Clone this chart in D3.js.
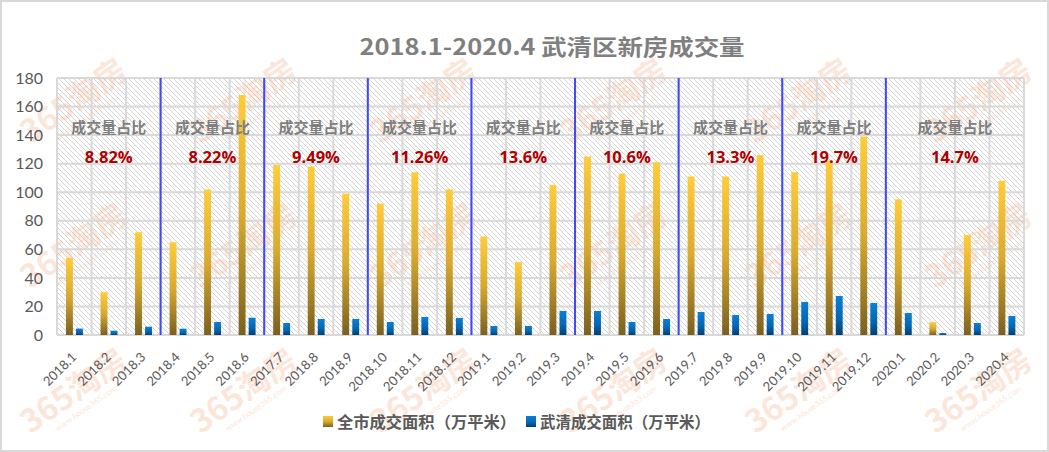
<!DOCTYPE html>
<html>
<head>
<meta charset="utf-8">
<script src="https://cdn.jsdelivr.net/npm/d3@7"></script>
<style>
html,body{margin:0;padding:0;background:#fff;}
svg{display:block;}
</style>
</head>
<body>
<svg id="chart" width="1049" height="452"></svg>
<script>
const categories = ["2018.1","2018.2","2018.3","2018.4","2018.5","2018.6","2017.7","2018.8","2018.9","2018.10","2018.11","2018.12","2019.1","2019.2","2019.3","2019.4","2019.5","2019.6","2019.7","2019.8","2019.9","2019.10","2019.11","2019.12","2020.1","2020.2","2020.3","2020.4"];
const cityArea = [54,30,72,65,102,168,119,118,99,92,114,102,69,51,105,125,113,121,111,111,126,114,122,139,95,9,70,108];
const wuqingArea = [4.5,3,5.8,4.4,9.1,12.1,8.4,11.2,11.2,9.1,12.6,11.9,6.3,6.3,16.8,16.8,9.1,11.2,16.1,14,14.7,23.1,27.3,22.4,15.4,1.4,8.4,13.3];
const groupStarts = [0,3,6,9,12,15,18,21,24];
const groupEnds = [2,5,8,11,14,17,20,23,27];
const ratioLabels = ["8.82%","8.22%","9.49%","11.26%","13.6%","10.6%","13.3%","19.7%","14.7%"];
const yTicks = [0,20,40,60,80,100,120,140,160,180];
const seriesNames = ["全市成交面积（万平米）","武清成交面积（万平米）"];
const titleText = "2018.1-2020.4 武清区新房成交量";
const ratioTitle = "成交量占比";

(function(){
const W = 1049, H = 452;
const svg = d3.select("#chart");
const font = "'Noto Sans CJK SC','Microsoft YaHei',sans-serif";

const defs = svg.append("defs");
const hatch = defs.append("pattern").attr("id","hatch").attr("patternUnits","userSpaceOnUse")
  .attr("width",5).attr("height",5);
hatch.append("rect").attr("width",5).attr("height",5).attr("fill","#fff");
hatch.append("path").attr("d","M0,0 L5,5 M-1,4 L1,6 M4,-1 L6,1").attr("stroke","#cfcfcf").attr("stroke-width",0.9);

const gY = defs.append("linearGradient").attr("id","gY").attr("x1",0).attr("y1",0).attr("x2",0).attr("y2",1);
gY.append("stop").attr("offset","0%").attr("stop-color","#ffcc3a");
gY.append("stop").attr("offset","50%").attr("stop-color","#d9aa30");
gY.append("stop").attr("offset","100%").attr("stop-color","#7a6020");
const gB = defs.append("linearGradient").attr("id","gB").attr("x1",0).attr("y1",0).attr("x2",0).attr("y2",1);
gB.append("stop").attr("offset","0%").attr("stop-color","#0a7fd6");
gB.append("stop").attr("offset","60%").attr("stop-color","#0566b0");
gB.append("stop").attr("offset","100%").attr("stop-color","#023f70");

svg.append("rect").attr("x",1).attr("y",1).attr("width",W-2).attr("height",H-2)
  .attr("fill","#fff").attr("stroke","#d9d9d9").attr("stroke-width",2);

const pLeft = 57, pRight = 1024, pTop = 78, pBottom = 335;
const x = d3.scaleBand().domain(categories).range([pLeft,pRight]).padding(0);
const y = d3.scaleLinear().domain([0,180]).range([pBottom,pTop]);
const bw = x.bandwidth();

svg.append("rect").attr("x",pLeft).attr("y",pTop).attr("width",pRight-pLeft).attr("height",pBottom-pTop).attr("fill","url(#hatch)");

const wm = svg.append("g").attr("class","watermarks");
const wmCols = [80,250,430,620,805,985];
const wmRows = [110,255,400];
wmRows.forEach(ry => wmCols.forEach(cx => {
  const g = wm.append("g").attr("transform",`translate(${cx},${ry}) rotate(-35)`);
  g.append("text").attr("text-anchor","middle").attr("font-family",font).attr("font-weight","bold")
    .attr("font-size",32).attr("fill","#f6a070").attr("opacity",0.25).text("365淘房");
  g.append("text").attr("text-anchor","middle").attr("y",13).attr("font-family","Lato,sans-serif")
    .attr("font-size",8).attr("fill","#f6a070").attr("opacity",0.28).text("www.house365.com");
}));

const grid = svg.append("g");
grid.selectAll("line.h").data(yTicks).join("line").attr("class","h")
  .attr("x1",pLeft).attr("x2",pRight).attr("y1",d=>y(d)).attr("y2",d=>y(d))
  .attr("stroke","#d9d9d9").attr("stroke-width",2);
const vLines = categories.map(c=>x(c)).concat([pRight]);
grid.selectAll("line.v").data(vLines).join("line").attr("class","v")
  .attr("x1",d=>d).attr("x2",d=>d).attr("y1",pTop).attr("y2",pBottom)
  .attr("stroke","#d9d9d9").attr("stroke-width",2);

svg.append("g").selectAll("line").data(groupStarts.slice(1)).join("line")
  .attr("x1",d=>x(categories[d])).attr("x2",d=>x(categories[d]))
  .attr("y1",pTop).attr("y2",pBottom).attr("stroke","#3f48ff").attr("stroke-width",2);

svg.append("g").selectAll("rect").data(categories).join("rect")
  .attr("x",c=>x(c)+bw*0.26).attr("width",bw*0.2)
  .attr("y",(c,i)=>y(cityArea[i])).attr("height",(c,i)=>y(0)-y(cityArea[i]))
  .attr("fill","url(#gY)");
svg.append("g").selectAll("rect").data(categories).join("rect")
  .attr("x",c=>x(c)+bw*0.55).attr("width",bw*0.2)
  .attr("y",(c,i)=>y(wuqingArea[i])).attr("height",(c,i)=>y(0)-y(wuqingArea[i]))
  .attr("fill","url(#gB)");

const yAxis = svg.append("g").attr("transform",`translate(${pLeft},0)`)
  .call(d3.axisLeft(y).tickValues(yTicks).tickSize(0).tickPadding(14));
yAxis.select(".domain").remove();
yAxis.selectAll("text").attr("font-family","Lato,'Liberation Sans',sans-serif").attr("font-size",16).attr("fill","#595959");

const xAxis = svg.append("g").attr("transform",`translate(0,${pBottom})`)
  .call(d3.axisBottom(x).tickSize(0).tickPadding(0));
xAxis.select(".domain").remove();
xAxis.selectAll("text")
  .attr("font-family","Lato,'Liberation Sans',sans-serif").attr("font-size",13).attr("fill","#595959")
  .attr("text-anchor","end").attr("dy",0).attr("y",0)
  .attr("transform","translate(3,23) rotate(-45)");

const ann = svg.append("g");
groupStarts.forEach((s,i)=>{
  const cx = (x(categories[s]) + x(categories[groupEnds[i]]) + bw)/2;
  ann.append("text").attr("x",cx).attr("y",133).attr("text-anchor","middle")
    .attr("font-family",font).attr("font-weight","bold").attr("font-size",15).attr("fill","#7f7f7f").text(ratioTitle);
  ann.append("text").attr("x",cx).attr("y",163).attr("text-anchor","middle")
    .attr("font-family","'Open Sans','DejaVu Sans',sans-serif").attr("font-weight","bold").attr("font-size",16.5).attr("fill","#b00000").text(ratioLabels[i]);
});

svg.append("text").attr("x",552).attr("y",55).attr("text-anchor","middle")
  .attr("font-family",font).attr("font-weight","bold").attr("font-size",22).attr("fill","#7f7f7f")
  .attr("textLength",385).attr("lengthAdjust","spacingAndGlyphs").text(titleText);

const legend = svg.append("g");
const legItems = [{x:323, w:179, fill:"url(#gY)", name:seriesNames[0]},{x:526, w:170, fill:"url(#gB)", name:seriesNames[1]}];
legItems.forEach(d=>{
  legend.append("rect").attr("x",d.x).attr("y",416).attr("width",10).attr("height",11).attr("fill",d.fill);
  legend.append("text").attr("x",d.x+14).attr("y",428).attr("font-family",font).attr("font-weight","bold")
    .attr("font-size",16).attr("fill","#595959")
    .attr("textLength",d.w).attr("lengthAdjust","spacingAndGlyphs").text(d.name);
});
})();
</script>
</body>
</html>
